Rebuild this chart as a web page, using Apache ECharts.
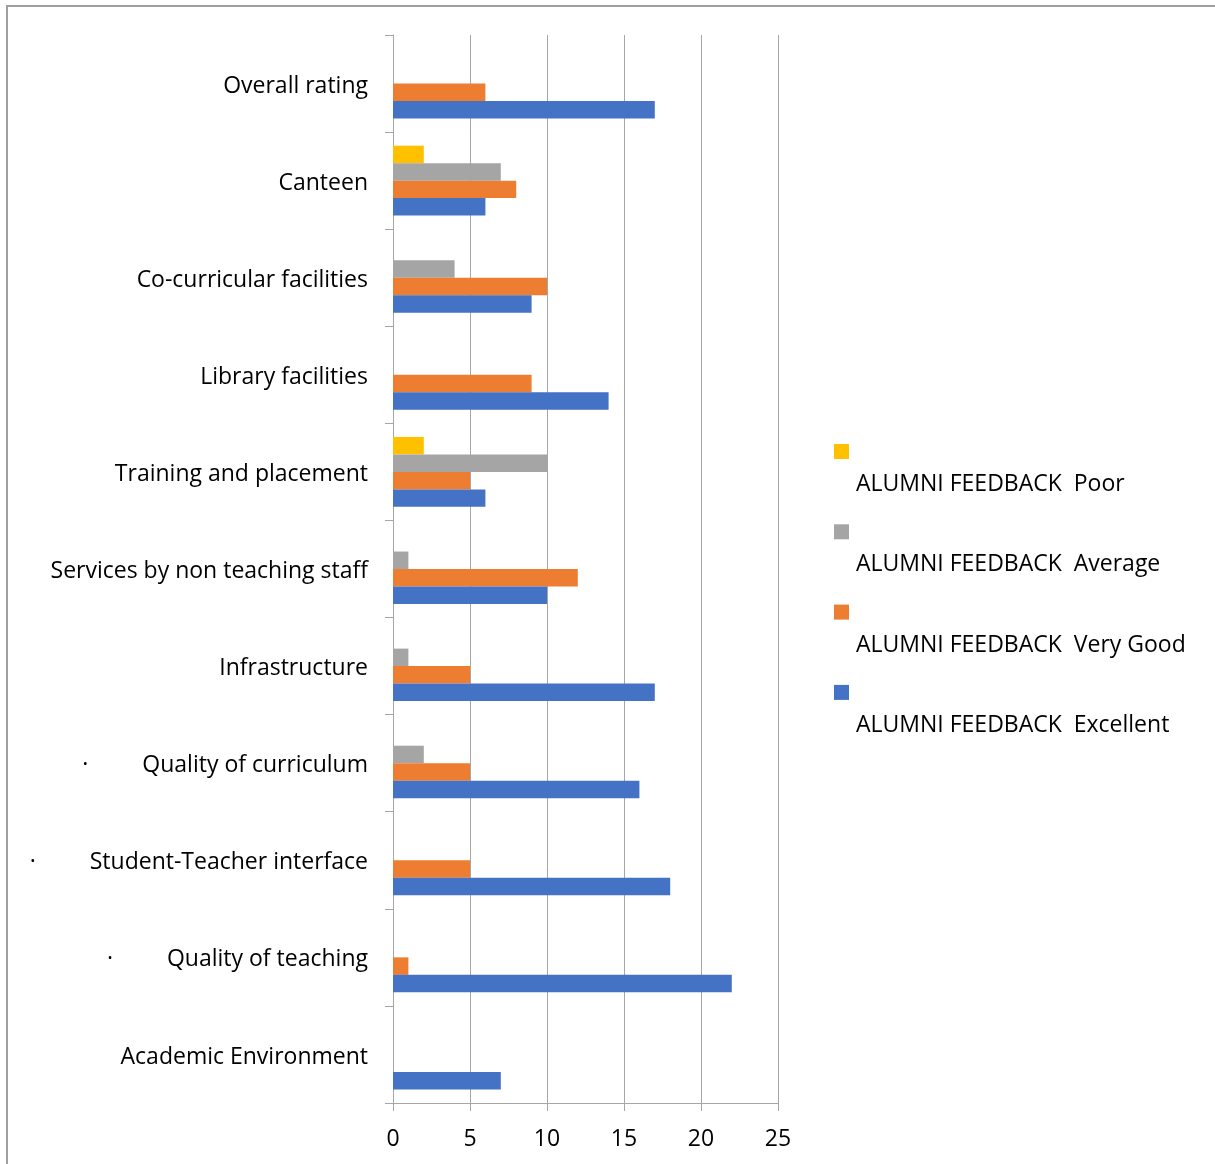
<!DOCTYPE html>
<html>
<head>
<meta charset="utf-8">
<script src="https://cdn.jsdelivr.net/npm/echarts@6/dist/echarts.min.js"></script>
<style>
html,body{margin:0;padding:0;background:#fff;}
#chart{width:1215px;height:1164px;}
</style>
</head>
<body>
<div id="chart"></div>
<script>
// Categories, bottom to top
var categories = ['Academic Environment','Quality of teaching','Student-Teacher interface','Quality of curriculum','Infrastructure','Services by non teaching staff','Training and placement','Library facilities','Co-curricular facilities','Canteen','Overall rating'];
var bulletCategories = ['Quality of teaching','Student-Teacher interface','Quality of curriculum'];
var seriesNames = ['ALUMNI FEEDBACK  Poor','ALUMNI FEEDBACK  Average','ALUMNI FEEDBACK  Very Good','ALUMNI FEEDBACK  Excellent'];
var poor      = [0, 0, 0, 0, 0, 0, 2, 0, 0, 2, 0];
var average   = [0, 0, 0, 2, 1, 1, 10, 0, 4, 7, 0];
var veryGood  = [0, 1, 5, 5, 5, 12, 5, 9, 10, 8, 6];
var excellent = [7, 22, 18, 16, 17, 10, 6, 14, 9, 6, 17];
var xTicks = [0, 5, 10, 15, 20, 25];
var colors = ['#FFC000','#A5A5A5','#ED7D31','#4472C4'];

var FONT = 'Open Sans';
var FS = 23;
var chart = echarts.init(document.getElementById('chart'));
var values = [poor, average, veryGood, excellent];
var series = seriesNames.map(function(n, i){
  return {
    name: n, type: 'bar', data: values[i],
    barGap: '0%', barCategoryGap: '28%',
    itemStyle: {color: colors[i]},
    silent: true, animation: false
  };
});
chart.setOption({
  animation: false,
  textStyle: {fontFamily: FONT},
  grid: {left: 393, right: 437, top: 35, bottom: 61, containLabel: false},
  xAxis: {
    type: 'value', min: xTicks[0], max: xTicks[xTicks.length-1], interval: 5,
    axisLine: {show: true, lineStyle: {color: '#a6a6a6', width: 1}},
    axisTick: {show: true, length: 8, lineStyle: {color: '#a6a6a6'}},
    splitLine: {show: true, lineStyle: {color: '#a6a6a6', width: 1}},
    axisLabel: {fontSize: FS, color: '#000', margin: 25, fontFamily: FONT}
  },
  yAxis: {
    type: 'category', data: categories,
    axisLine: {show: true, lineStyle: {color: '#a6a6a6', width: 1}},
    axisTick: {show: true, length: 8, lineStyle: {color: '#a6a6a6'}},
    axisLabel: {
      fontSize: FS, color: '#000', margin: 25, fontFamily: FONT,
      formatter: function(v){
        return bulletCategories.indexOf(v) >= 0 ? '{d|·}{n|' + v + '}' : '{n|' + v + '}';
      },
      rich: {
        d: {fontSize: FS, fontFamily: FONT, color: '#000', padding: [5, 54, 0, 0]},
        n: {fontSize: FS, fontFamily: FONT, color: '#000', padding: [5, 0, 0, 0]}
      }
    }
  },
  legend: {
    orient: 'vertical', left: 834, top: 444, padding: 0,
    itemWidth: 15, itemHeight: 15, itemGap: 28.3,
    icon: 'rect',
    data: seriesNames,
    formatter: function(n){ return '{t|' + n + '}'; },
    textStyle: {
      fontSize: FS, color: '#000', fontFamily: FONT,
      rich: {t: {fontSize: FS, fontFamily: FONT, color: '#000', padding: [66, 0, 0, 2]}}
    },
    selectedMode: false
  },
  graphic: [{
    type: 'rect', silent: true,
    shape: {x: 7, y: 6, width: 1300, height: 1300},
    style: {fill: 'none', stroke: '#a0a0a0', lineWidth: 2}
  }],
  series: series
});
</script>
</body>
</html>
